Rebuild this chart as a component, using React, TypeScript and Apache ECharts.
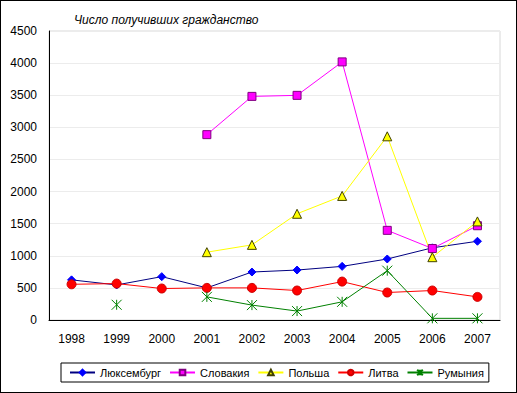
import React, { useEffect, useRef } from "react";
import * as echarts from "echarts";

const years = ["1998", "1999", "2000", "2001", "2002", "2003", "2004", "2005", "2006", "2007"];
const luxembourg = [625, 546, 675, 500, 747, 778, 835, 950, 1124, 1226];
const slovakia: (number | string)[] = ["-", "-", "-", 2886, 3482, 3498, 4019, 1396, 1113, 1468];
const poland: (number | string)[] = ["-", "-", "-", 1056, 1170, 1654, 1932, 2860, 978, 1535];
const lithuania = [556, 567, 490, 500, 500, 459, 598, 428, 459, 360];
const romania: (number | string)[] = ["-", 237, "-", 360, 232, 139, 283, 768, 26, 26];
const seriesNames = ["Люксембург", "Словакия", "Польша", "Литва", "Румыния"];
const title = "Число получивших гражданство";

const asterisk = "path://M0,0L10,10M10,0L0,10M5,0L5,10";

export default function App() {
  const ref = useRef<HTMLDivElement>(null);
  useEffect(() => {
    const chart = echarts.init(ref.current!, null, { renderer: "svg" });
    const font = "Arial, 'Liberation Sans', sans-serif";
    chart.setOption({
      animation: false,
      backgroundColor: "#fff",
      textStyle: { fontFamily: font },
      title: {
        text: title,
        left: 68,
        top: 8,
        textStyle: { fontSize: 12, fontStyle: "italic", fontWeight: "normal", color: "#000", fontFamily: font },
      },
      grid: { left: 48, right: 16, top: 30, bottom: 72, show: true, borderColor: "#d8d8d8", borderWidth: 1 },
      xAxis: {
        type: "category",
        data: years,
        boundaryGap: true,
        axisLine: { lineStyle: { color: "#000", width: 1 } },
        axisTick: { show: false },
        axisLabel: { color: "#000", fontSize: 12, margin: 13, fontFamily: font },
      },
      yAxis: {
        type: "value",
        min: 0,
        max: 4500,
        interval: 500,
        axisLine: { show: true, lineStyle: { color: "#000", width: 1 } },
        axisTick: { show: false },
        axisLabel: { color: "#000", fontSize: 12, margin: 12, fontFamily: font, formatter: (v: number) => String(v) },
        splitLine: { lineStyle: { color: "#ececec", width: 1 } },
      },
      legend: {
        left: 60,
        top: 362,
        padding: [4, 5, 4, 8],
        itemGap: 8,
        itemWidth: 25,
        itemHeight: 7,
        borderColor: "#000",
        borderWidth: 1,
        textStyle: { color: "#000", fontSize: 11, fontFamily: font },
        data: seriesNames,
      },
      series: [
        {
          name: seriesNames[0],
          type: "line",
          data: luxembourg,
          symbol: "diamond",
          symbolSize: 8,
          lineStyle: { color: "#000080", width: 1 },
          itemStyle: { color: "#0000ff", borderColor: "#0000ff", borderWidth: 1 },
        },
        {
          name: seriesNames[1],
          type: "line",
          data: slovakia,
          symbol: "rect",
          symbolSize: 8,
          lineStyle: { color: "#ff00ff", width: 1 },
          itemStyle: { color: "#ff00ff", borderColor: "#800080", borderWidth: 1 },
        },
        {
          name: seriesNames[2],
          type: "line",
          data: poland,
          symbol: "triangle",
          symbolSize: 9,
          lineStyle: { color: "#ffff00", width: 1 },
          itemStyle: { color: "#ffff00", borderColor: "#404000", borderWidth: 1 },
        },
        {
          name: seriesNames[3],
          type: "line",
          data: lithuania,
          symbol: "circle",
          symbolSize: 9,
          lineStyle: { color: "#ff0000", width: 1 },
          itemStyle: { color: "#ff0000", borderColor: "#cc0000", borderWidth: 1 },
        },
        {
          name: seriesNames[4],
          type: "line",
          data: romania,
          connectNulls: false,
          symbol: asterisk,
          symbolSize: 10,
          lineStyle: { color: "#008000", width: 1 },
          itemStyle: { color: "none", borderColor: "#008000", borderWidth: 1 },
        },
      ],
    });
    return () => chart.dispose();
  }, []);
  return (
    <div
      ref={ref}
      style={{ position: "absolute", left: 0, top: 0, width: 517, height: 393, boxSizing: "border-box", border: "1px solid #000" }}
    />
  );
}
